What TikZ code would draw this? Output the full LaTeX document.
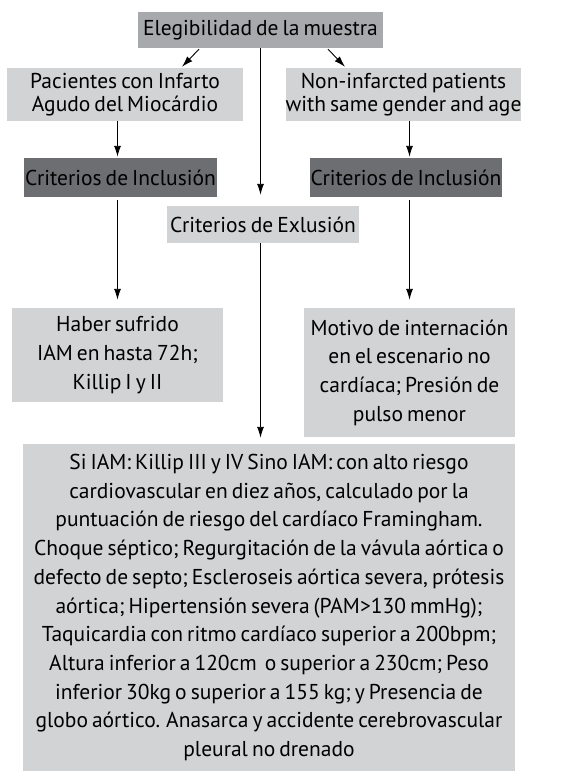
\documentclass[tikz,border=0pt]{standalone}
\usepackage{fontspec}
\setmainfont[WordSpace=0.7]{PT Sans}
\usetikzlibrary{calc,arrows.meta}
\definecolor{grisclaro}{HTML}{D1D3D4}
\definecolor{grismedio}{HTML}{A7A9AC}
\definecolor{grisoscuro}{HTML}{6D6E71}
\tikzset{
	caja/.style={fill=grisclaro, inner sep=0pt, align=center, font=\fontsize{21.5}{28.7}\selectfont},
	cajamedia/.style={caja, fill=grismedio},
	cajaoscura/.style={caja, fill=grisoscuro},
	cajaalta/.style={caja, font=\fontsize{21.5}{22.5}\selectfont},
	flecha/.style={-{Latex[length=11pt,width=7pt]}, line width=0.9pt},
}

\begin{document}
\begin{tikzpicture}[x=1pt,y=-1pt]
			%%%%% START %%%%%
			\useasboundingbox (0,0) rectangle (576,771);
			
			\node[cajamedia, minimum width=245, minimum height=36] (muestra) at (260.5,30) {Elegibilidad de la muestra};
			
			\node[cajaalta, minimum width=236, minimum height=53] (pacientes) at (125,94.5) {Pacientes con Infarto\\Agudo del Miocárdio};
			\node[cajaalta, minimum width=235, minimum height=53] (noinfarto) at (403.5,94.5) {Non-infarcted patients\\with same gender and age};
			
			\node[cajaoscura, minimum width=193, minimum height=39] (inclusionA) at (120.5,177.5) {Criterios de Inclusión};
			\node[cajaoscura, minimum width=192, minimum height=39] (inclusionB) at (406,177.5) {Criterios de Inclusión};
			
			\node[caja, minimum width=192, minimum height=37] (exclusion) at (263,224.5) {Criterios de Exlusión};
			
			\node[caja, minimum width=211, minimum height=94] (haber) at (117.5,355) {Haber sufrido\\IAM en hasta 72h;\\Killip I y II};
			\node[caja, minimum width=211, minimum height=129] (motivo) at (409.5,372.5) {Motivo de internación\\en el escenario no\\cardíaca; Presión de\\pulso menor};
			
			\node[caja, minimum width=492, minimum height=327] (criterios) at (269,607.5) {Si IAM: Killip III y IV Sino IAM: con alto riesgo\\cardiovascular en diez años, calculado por la\\puntuación de riesgo del cardíaco Framingham.\\Choque séptico; Regurgitación de la vávula aórtica o\\defecto de septo; Escleroseis aórtica severa, prótesis\\aórtica; Hipertensión severa (PAM>130 mmHg);\\Taquicardia con ritmo cardíaco superior a 200bpm;\\Altura inferior a 120cm \ o superior a 230cm; Peso\\inferior 30kg o superior a 155 kg; y Presencia de\\globo aórtico. Anasarca y accidente cerebrovascular\\pleural no drenado};
			
			\draw[flecha] ($(muestra.south)+(-61.5,1)$) -- ($(pacientes.north)+(57,-1)$);
			\draw[flecha] ($(muestra.south)+(67.5,1)$) -- ($(noinfarto.north)+(-58.5,-1)$);
			\draw[flecha, shorten >=11pt] (muestra.south) -- (exclusion.north -| muestra.south);
			\draw[flecha, shorten >=6pt] (exclusion.south -| muestra.south) -- (criterios.north -| muestra.south);
			
			\draw[flecha, shorten >=1pt] (pacientes.south -| haber) -- (inclusionA.north -| haber);
			\draw[flecha, shorten <=3pt, shorten >=8pt] (inclusionA.south -| haber) -- (haber.north);
			
			\draw[flecha, shorten >=1pt] (noinfarto.south -| motivo) -- (inclusionB.north -| motivo);
			\draw[flecha, shorten <=3pt, shorten >=8pt] (inclusionB.south -| motivo) -- (motivo.north);
			
			%%%%% END %%%%%
\end{tikzpicture}
\end{document}
